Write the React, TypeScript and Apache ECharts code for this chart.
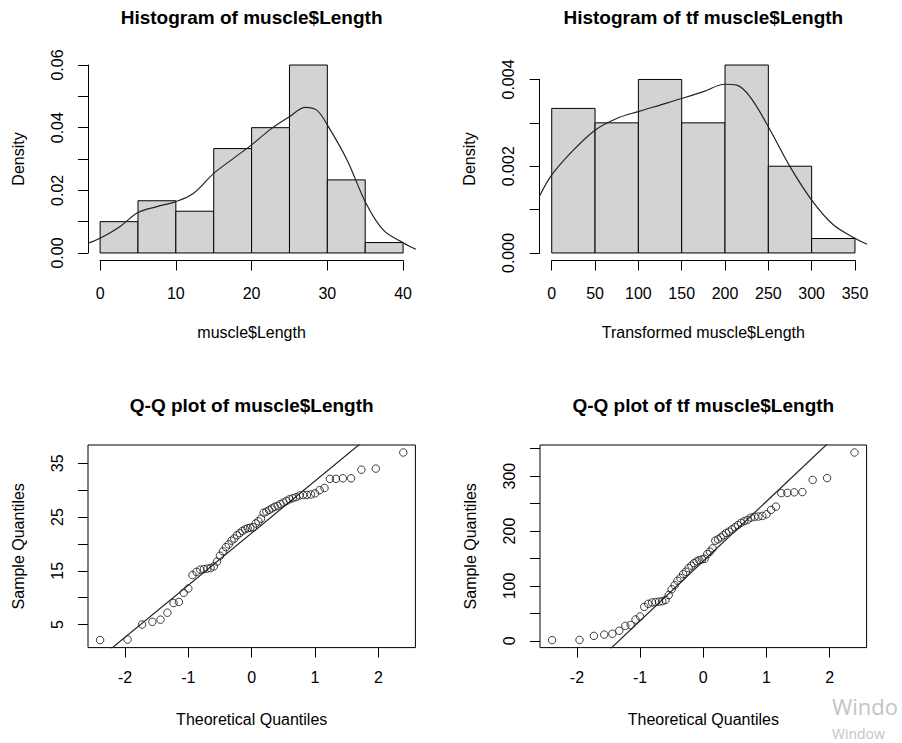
import React, { useEffect, useRef } from "react";
import * as echarts from "echarts";

// ---------- data ----------
const histBreaksLength = [0, 5, 10, 15, 20, 25, 30, 35, 40];
const histDensityLength = [0.01, 0.01667, 0.01333, 0.03333, 0.04, 0.06, 0.02333, 0.00333];

const histBreaksTf = [0, 50, 100, 150, 200, 250, 300, 350];
const histDensityTf = [0.003333, 0.003, 0.004, 0.003, 0.004333, 0.002, 0.000333];

const densityCurveLength: [number, number][] = [
  [-1.6, 0.0031], [0, 0.0047], [2.6, 0.0084], [5, 0.0129], [7.5, 0.0148], [10, 0.0164],
  [12.3, 0.019], [15, 0.0254], [17.6, 0.0302], [20, 0.0345], [22.4, 0.0393], [25, 0.0435],
  [27.1, 0.0465], [28.6, 0.0456], [30, 0.0409], [32.6, 0.0297], [35.1, 0.0159],
  [37.4, 0.0073], [40, 0.0033], [41.7, 0.0012],
];

const densityCurveTf: [number, number][] = [
  [-14.3, 0.0013], [0, 0.0018], [25, 0.00237], [50, 0.00283], [75, 0.0031], [100, 0.00326],
  [125, 0.00341], [150, 0.00356], [175, 0.00372], [200, 0.00389], [213.5, 0.00387],
  [229, 0.0036], [250, 0.00291], [275, 0.00199], [300, 0.00122], [325, 0.00065],
  [350, 0.00034], [364, 0.0002],
];

const theoreticalQuantiles = [
  -2.394, -1.96, -1.732, -1.569, -1.44, -1.331, -1.235, -1.15, -1.073, -1.001,
  -0.935, -0.872, -0.812, -0.755, -0.701, -0.649, -0.598, -0.548, -0.501, -0.454,
  -0.408, -0.363, -0.319, -0.276, -0.232, -0.189, -0.147, -0.105, -0.063, -0.021,
  0.021, 0.063, 0.105, 0.147, 0.189, 0.232, 0.276, 0.319, 0.363, 0.408,
  0.454, 0.501, 0.548, 0.598, 0.649, 0.701, 0.755, 0.812, 0.872, 0.935,
  1.001, 1.073, 1.15, 1.235, 1.331, 1.44, 1.569, 1.732, 1.96, 2.394,
];

const sampleLength = [
  2.1, 2.2, 5.0, 5.5, 5.9, 7.2, 9.0, 9.2, 10.9, 11.7,
  14.2, 14.8, 15.2, 15.3, 15.4, 15.5, 15.8, 16.7, 17.8, 18.6,
  19.4, 19.9, 20.6, 21.0, 21.6, 22.0, 22.4, 22.7, 22.9, 23.0,
  23.1, 23.8, 24.2, 24.7, 25.8, 26.0, 26.3, 26.6, 26.9, 27.1,
  27.4, 27.7, 28.0, 28.3, 28.5, 28.7, 29.0, 29.1, 29.1, 29.2,
  29.4, 30.0, 30.4, 32.1, 32.1, 32.2, 32.2, 33.8, 34.0, 37.0,
];

const sampleTf = [
  1.5, 1.8, 9.2, 11.5, 13.0, 18.5, 27.5, 29.0, 39.0, 44.5,
  62.0, 67.5, 70.0, 70.8, 71.5, 72.3, 74.5, 83.5, 94.0, 101.5,
  109.5, 114.5, 121.5, 126.0, 132.5, 137.0, 141.5, 145.0, 147.0, 148.5,
  149.5, 158.0, 162.5, 168.5, 182.5, 185.0, 188.5, 192.5, 196.5, 199.0,
  203.0, 207.0, 211.0, 215.0, 218.0, 220.5, 224.5, 226.0, 226.5, 227.5,
  230.5, 238.5, 244.5, 269.0, 269.5, 270.5, 271.0, 293.0, 296.5, 343.0,
];

// tick values and labels
const histLenXTicks = [0, 40, 10];
const histLenYTicks = [0, 0.06, 0.01];
const histLenYLabelValues = [0, 0.02, 0.04, 0.06];
const histLenYLabels = ["0.00", "0.02", "0.04", "0.06"];
const histTfXTicks = [0, 350, 50];
const histTfYTicks = [0, 0.004, 0.001];
const histTfYLabelValues = [0, 0.002, 0.004];
const histTfYLabels = ["0.000", "0.002", "0.004"];
const qqXTicks = [-2, 2, 1];
const qqLenYTicks = [5, 35, 5];
const qqLenYLabelValues = [5, 15, 25, 35];
const qqLenYLabels = ["5", "15", "25", "35"];
const qqTfYTicks = [0, 350, 50];
const qqTfYLabelValues = [0, 100, 200, 300];
const qqTfYLabels = ["0", "100", "200", "300"];

const titles = [
  "Histogram of muscle$Length",
  "Histogram of tf muscle$Length",
  "Q-Q plot of muscle$Length",
  "Q-Q plot of tf muscle$Length",
];
const xNames = ["muscle$Length", "Transformed muscle$Length", "Theoretical Quantiles", "Theoretical Quantiles"];
const yNames = ["Density", "Density", "Sample Quantiles", "Sample Quantiles"];
const watermarkLines = ["Windo", "Window"];

const NORMAL_Q75 = 0.6744898;

// ---------- helpers ----------
const FONT = '"Liberation Sans", Arial, Helvetica, sans-serif';

function ext(lo: number, hi: number): [number, number] {
  const d = (hi - lo) * 0.04;
  return [lo - d, hi + d];
}
function quantile7(sorted: number[], p: number) {
  const h = (sorted.length - 1) * p;
  const lo = Math.floor(h);
  const hi = Math.min(lo + 1, sorted.length - 1);
  return sorted[lo] + (h - lo) * (sorted[hi] - sorted[lo]);
}
function labelFormatter(values: number[], labels: string[]) {
  return (v: number) => {
    const i = values.findIndex((x) => Math.abs(x - v) < 1e-9 + Math.abs(x) * 1e-6);
    return i >= 0 ? labels[i] : "";
  };
}

function buildOption() {
  const panels = [
    { L: 88, T: 57.5, W: 327.2, H: 203 },
    { L: 539.6, T: 57.5, W: 327.5, H: 203 },
    { L: 88, T: 445, W: 327.4, H: 202.6 },
    { L: 540, T: 445, W: 326.6, H: 202.6 },
  ];
  const xr: [number, number][] = [
    ext(histBreaksLength[0], histBreaksLength[histBreaksLength.length - 1]),
    ext(histBreaksTf[0], histBreaksTf[histBreaksTf.length - 1]),
    ext(Math.min(...theoreticalQuantiles), Math.max(...theoreticalQuantiles)),
    ext(Math.min(...theoreticalQuantiles), Math.max(...theoreticalQuantiles)),
  ];
  const yr: [number, number][] = [
    ext(0, Math.max(...histDensityLength)),
    ext(0, Math.max(...histDensityTf)),
    ext(Math.min(...sampleLength), Math.max(...sampleLength)),
    ext(Math.min(...sampleTf), Math.max(...sampleTf)),
  ];
  const xt = [histLenXTicks, histTfXTicks, qqXTicks, qqXTicks];
  const yt = [histLenYTicks, histTfYTicks, qqLenYTicks, qqTfYTicks];
  const yFmt = [
    labelFormatter(histLenYLabelValues, histLenYLabels),
    labelFormatter(histTfYLabelValues, histTfYLabels),
    labelFormatter(qqLenYLabelValues, qqLenYLabels),
    labelFormatter(qqTfYLabelValues, qqTfYLabels),
  ];

  const grids: any[] = [];
  const xAxes: any[] = [];
  const yAxes: any[] = [];
  const graphics: any[] = [];

  const axisCommon = {
    axisLine: { show: true, lineStyle: { color: "#000", width: 1 } },
    axisTick: { show: true, inside: false, length: 10, lineStyle: { color: "#000", width: 1 } },
    splitLine: { show: false },
    axisLabel: { color: "#000", fontSize: 16, fontFamily: FONT },
  };
  const hidden = { show: false, type: "value", min: 0, max: 1 };

  panels.forEach((p, i) => {
    const isQQ = i >= 2;
    const [x0, x1] = xr[i];
    const [y0, y1] = yr[i];
    grids.push({
      left: p.L, top: p.T, width: p.W, height: p.H,
      show: isQQ, borderColor: "#000", borderWidth: 1, backgroundColor: "transparent",
    });
    xAxes.push({ type: "value", gridIndex: 3 * i, min: x0, max: x1, show: false });
    yAxes.push({ type: "value", gridIndex: 3 * i, min: y0, max: y1, show: false });

    const [tx0, tx1, tdx] = xt[i];
    grids.push({
      left: p.L + ((tx0 - x0) / (x1 - x0)) * p.W,
      width: ((tx1 - tx0) / (x1 - x0)) * p.W,
      top: p.T + p.H - 1, height: 1,
    });
    xAxes.push({
      ...axisCommon, type: "value", gridIndex: 3 * i + 1, position: "bottom",
      min: tx0, max: tx1, interval: tdx,
      axisLine: { show: !isQQ, lineStyle: { color: "#000", width: 1 } },
      axisLabel: {
        ...axisCommon.axisLabel, margin: isQQ ? 22 : 25,
        formatter: (v: number) => String(Math.round(v * 1000) / 1000),
      },
    });
    yAxes.push({ ...hidden, gridIndex: 3 * i + 1 });

    const [ty0, ty1, tdy] = yt[i];
    grids.push({
      left: p.L, width: 1,
      top: p.T + ((y1 - ty1) / (y1 - y0)) * p.H,
      height: ((ty1 - ty0) / (y1 - y0)) * p.H,
    });
    xAxes.push({ ...hidden, gridIndex: 3 * i + 2 });
    yAxes.push({
      ...axisCommon, type: "value", gridIndex: 3 * i + 2, position: "left",
      min: ty0, max: ty1, interval: tdy,
      axisLine: { show: !isQQ, lineStyle: { color: "#000", width: 1 } },
      axisLabel: { ...axisCommon.axisLabel, margin: 23, rotate: 90, formatter: yFmt[i] },
    });

    graphics.push({
      type: "text", x: p.L + p.W / 2, y: p.T - 40,
      style: { text: titles[i], fill: "#000", fontSize: 19, fontWeight: "bold", fontFamily: FONT,
        align: "center", verticalAlign: "middle", textAlign: "center", textVerticalAlign: "middle" },
    });
    graphics.push({
      type: "text", x: p.L + p.W / 2, y: p.T + p.H + 72,
      style: { text: xNames[i], fill: "#000", fontSize: 16, fontFamily: FONT,
        align: "center", verticalAlign: "middle", textAlign: "center", textVerticalAlign: "middle" },
    });
    graphics.push({
      type: "text", x: p.L - 70, y: p.T + p.H / 2, rotation: Math.PI / 2,
      style: { text: yNames[i], fill: "#000", fontSize: 16, fontFamily: FONT,
        align: "center", verticalAlign: "middle", textAlign: "center", textVerticalAlign: "middle" },
    });
  });

  // faint watermark at the bottom-right corner
  graphics.push({
    type: "text", x: 832, y: 706,
    style: { text: watermarkLines[0], fill: "#c4c4c4", fontSize: 22, fontFamily: '"Open Sans", sans-serif',
      align: "left", verticalAlign: "middle", textAlign: "left", textVerticalAlign: "middle" },
  });
  graphics.push({
    type: "text", x: 832, y: 733,
    style: { text: watermarkLines[1], fill: "#c4c4c4", fontSize: 14, fontFamily: '"Open Sans", sans-serif',
      align: "left", verticalAlign: "middle", textAlign: "left", textVerticalAlign: "middle" },
  });

  const barItem = (params: any, api: any) => {
    const a = api.coord([api.value(0), api.value(2)]);
    const b = api.coord([api.value(1), 0]);
    return {
      type: "rect",
      shape: { x: a[0], y: a[1], width: b[0] - a[0], height: b[1] - a[1] },
      style: { fill: "#D3D3D3", stroke: "#000", lineWidth: 1 },
    };
  };

  const qqLine = (sample: number[], idx: number) => {
    const s = [...sample].sort((a, b) => a - b);
    const q1 = quantile7(s, 0.25);
    const q3 = quantile7(s, 0.75);
    const slope = (q3 - q1) / (2 * NORMAL_Q75);
    const inter = (q1 + q3) / 2;
    const [a, b] = xr[idx];
    return [[a, inter + slope * a], [b, inter + slope * b]];
  };

  const series: any[] = [
    {
      type: "custom", xAxisIndex: 0, yAxisIndex: 0, renderItem: barItem,
      encode: { x: [0, 1], y: 2 },
      data: histDensityLength.map((d, k) => [histBreaksLength[k], histBreaksLength[k + 1], d]),
    },
    {
      type: "line", xAxisIndex: 0, yAxisIndex: 0, data: densityCurveLength, smooth: 0.35,
      showSymbol: false, symbol: "none", clip: true, lineStyle: { color: "#222", width: 1.2 },
    },
    {
      type: "custom", xAxisIndex: 3, yAxisIndex: 3, renderItem: barItem,
      encode: { x: [0, 1], y: 2 },
      data: histDensityTf.map((d, k) => [histBreaksTf[k], histBreaksTf[k + 1], d]),
    },
    {
      type: "line", xAxisIndex: 3, yAxisIndex: 3, data: densityCurveTf, smooth: 0.35,
      showSymbol: false, symbol: "none", clip: true, lineStyle: { color: "#222", width: 1.2 },
    },
    {
      type: "scatter", xAxisIndex: 6, yAxisIndex: 6, symbol: "circle", symbolSize: 7.5,
      data: theoreticalQuantiles.map((z, k) => [z, sampleLength[k]]),
      itemStyle: { color: "rgba(255,255,255,0)", borderColor: "#111", borderWidth: 1 },
    },
    {
      type: "line", xAxisIndex: 6, yAxisIndex: 6, data: qqLine(sampleLength, 2),
      showSymbol: false, symbol: "none", clip: true, lineStyle: { color: "#222", width: 1.2 },
    },
    {
      type: "scatter", xAxisIndex: 9, yAxisIndex: 9, symbol: "circle", symbolSize: 7.5,
      data: theoreticalQuantiles.map((z, k) => [z, sampleTf[k]]),
      itemStyle: { color: "rgba(255,255,255,0)", borderColor: "#111", borderWidth: 1 },
    },
    {
      type: "line", xAxisIndex: 9, yAxisIndex: 9, data: qqLine(sampleTf, 3),
      showSymbol: false, symbol: "none", clip: true, lineStyle: { color: "#222", width: 1.2 },
    },
  ];

  return {
    animation: false,
    backgroundColor: "#fff",
    grid: grids,
    xAxis: xAxes,
    yAxis: yAxes,
    graphic: graphics,
    series,
  };
}

export default function App() {
  const ref = useRef<HTMLDivElement>(null);
  useEffect(() => {
    if (!ref.current) return;
    const chart = echarts.init(ref.current, undefined, { renderer: "svg" });
    chart.setOption(buildOption() as any);
    return () => chart.dispose();
  }, []);
  return (
    <div
      ref={ref}
      style={{ position: "absolute", left: 0, top: 0, width: 902, height: 743, background: "#fff" }}
    />
  );
}
